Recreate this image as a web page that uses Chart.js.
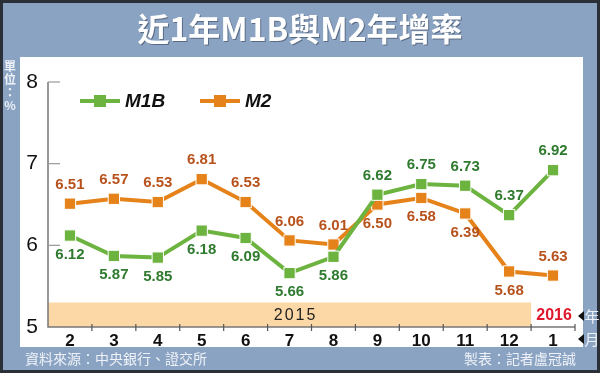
<!DOCTYPE html>
<html>
<head>
<meta charset="utf-8">
<script src="https://cdn.jsdelivr.net/npm/chart.js@4/dist/chart.umd.min.js"></script>
<style>
  html, body { margin: 0; padding: 0; background: #8ba3c2; }
  #wrap { width: 600px; height: 373px; position: relative; }
</style>
</head>
<body>
<div id="wrap"><canvas id="chart" width="600" height="373"></canvas></div>
<script>
// 月份 (2015/2 ~ 2016/1)
const months = ['2', '3', '4', '5', '6', '7', '8', '9', '10', '11', '12', '1'];
const m1b = [6.12, 5.87, 5.85, 6.18, 6.09, 5.66, 5.86, 6.62, 6.75, 6.73, 6.37, 6.92];
const m2 = [6.51, 6.57, 6.53, 6.81, 6.53, 6.06, 6.01, 6.50, 6.58, 6.39, 5.68, 5.63];
// label above (true) / below (false) the point
const m1bAbove = [false, false, false, false, false, false, false, true, true, true, true, true];
const m2Above = [true, true, true, true, true, true, true, false, false, false, false, true];
const yTicks = [5, 6, 7, 8];

const GREEN = '#6cb33f';
const ORANGE = '#e5831a';
const CJK = '"Noto Sans CJK TC", "Noto Sans", sans-serif';

const framePlugin = {
    id: 'frame',
    beforeDraw(chart) {
        const c = chart.ctx;
        c.save();
        c.fillStyle = '#8ba3c2';
        c.fillRect(0, 0, 600, 373);
        c.strokeStyle = '#2b2f38';
        c.lineWidth = 3;
        c.strokeRect(1.5, 1.5, 597, 370);
        c.fillStyle = '#ffffff';
        c.fillRect(20, 57, 563, 290);

        // title
        c.font = 'bold 32px ' + CJK;
        c.textAlign = 'center';
        c.textBaseline = 'middle';
        c.fillStyle = 'rgba(40,50,70,0.5)';
        c.fillText('近1年M1B與M2年增率', 301, 30);
        c.fillStyle = '#ffffff';
        c.fillText('近1年M1B與M2年增率', 300, 29);

        // unit
        c.font = 'bold 12px ' + CJK;
        c.fillStyle = '#eef2f8';
        ['單', '位', '：', '%'].forEach((ch, i) => c.fillText(ch, 10, 66 + i * 13));

        // footer
        c.font = '14px ' + CJK;
        c.textAlign = 'left';
        c.fillText('資料來源：中央銀行、證交所', 25, 359);
        c.textAlign = 'right';
        c.fillText('製表：記者盧冠誠', 576, 359);

        // year band
        const x = chart.scales.x, y = chart.scales.y;
        const half = (x.getPixelForValue(1) - x.getPixelForValue(0)) / 2;
        const bandRight = x.getPixelForValue(10) + half;
        const top = y.getPixelForValue(5.3), bot = y.getPixelForValue(5);
        c.fillStyle = '#fbd8a6';
        c.fillRect(chart.chartArea.left, top, bandRight - chart.chartArea.left, bot - top);
        c.textAlign = 'center';
        c.fillStyle = '#222';
        c.font = '16px "Liberation Sans", Arial, sans-serif';
        c.letterSpacing = '2px';
        c.fillText('2015', (chart.chartArea.left + bandRight) / 2 + 6, (top + bot) / 2 + 1);
        c.letterSpacing = '0px';
        c.fillStyle = '#e0182d';
        c.font = 'bold 16px "Liberation Sans", Arial, sans-serif';
        c.fillText('2016', x.getPixelForValue(11) + 1, (top + bot) / 2 + 1);
        c.restore();
    },
    afterDraw(chart) {
        const c = chart.ctx;
        const x = chart.scales.x, y = chart.scales.y;
        const area = chart.chartArea;
        c.save();
        // axes
        c.strokeStyle = '#777';
        c.lineWidth = 1.5;
        c.beginPath();
        c.moveTo(area.left, y.getPixelForValue(8));
        c.lineTo(area.left, area.bottom);
        c.lineTo(area.right, area.bottom);
        c.stroke();
        c.strokeStyle = '#999';
        c.lineWidth = 1.2;
        yTicks.slice(1).forEach(v => {
            const py = y.getPixelForValue(v);
            c.beginPath();
            c.moveTo(area.left, py);
            c.lineTo(area.left + 12, py);
            c.stroke();
        });
        const half = (x.getPixelForValue(1) - x.getPixelForValue(0)) / 2;
        c.strokeStyle = '#555';
        for (let i = 0; i < months.length; i++) {
            const px = x.getPixelForValue(i) + half;
            c.beginPath();
            c.moveTo(px, area.bottom - 3);
            c.lineTo(px, area.bottom + 4);
            c.stroke();
        }

        // year / month markers
        const drawTri = (tx, ty) => {
            c.fillStyle = '#111';
            c.beginPath();
            c.moveTo(tx, ty);
            c.lineTo(tx + 6, ty - 5);
            c.lineTo(tx + 6, ty + 5);
            c.closePath();
            c.fill();
        };
        drawTri(578, 316);
        drawTri(578, 339);
        c.font = '15px ' + CJK;
        c.textAlign = 'center';
        c.textBaseline = 'middle';
        c.fillStyle = '#eef2f8';
        c.fillText('年', 592, 316);
        c.fillText('月', 592, 339);

        // legend
        const legend = [
            { label: chart.data.datasets[0].label, color: GREEN, x: 80 },
            { label: chart.data.datasets[1].label, color: ORANGE, x: 200 }
        ];
        legend.forEach(l => {
            const ly = 101;
            c.strokeStyle = l.color;
            c.lineWidth = 4;
            c.beginPath();
            c.moveTo(l.x, ly);
            c.lineTo(l.x + 40, ly);
            c.stroke();
            c.fillStyle = l.color;
            c.fillRect(l.x + 14, ly - 6, 12, 12);
            c.fillStyle = '#111';
            c.font = 'italic bold 19px "Liberation Sans", Arial, sans-serif';
            c.textAlign = 'left';
            c.fillText(l.label, l.x + 45, ly + 1);
        });

        // data labels
        const sets = [
            { idx: 0, vals: m1b, above: m1bAbove, color: '#2e7a2e' },
            { idx: 1, vals: m2, above: m2Above, color: '#b8521c' }
        ];
        c.font = 'bold 15px "Liberation Sans", Arial, sans-serif';
        c.textAlign = 'center';
        sets.forEach(s => {
            const meta = chart.getDatasetMeta(s.idx);
            meta.data.forEach((pt, i) => {
                c.fillStyle = s.color;
                const dy = s.above[i] ? -19 : 19;
                c.fillText(s.vals[i].toFixed(2), pt.x, pt.y + dy);
            });
        });
        c.restore();
    }
};

new Chart(document.getElementById('chart'), {
    type: 'line',
    data: {
        labels: months,
        datasets: [
            {
                label: 'M1B',
                data: m1b,
                borderColor: GREEN,
                backgroundColor: GREEN,
                borderWidth: 4,
                pointStyle: 'rect',
                pointRadius: 8,
                pointBorderColor: '#ffffff',
                pointBorderWidth: 1,
                tension: 0
            },
            {
                label: 'M2',
                data: m2,
                borderColor: ORANGE,
                backgroundColor: ORANGE,
                borderWidth: 4,
                pointStyle: 'rect',
                pointRadius: 8,
                pointBorderColor: '#ffffff',
                pointBorderWidth: 1,
                tension: 0
            }
        ]
    },
    options: {
        responsive: false,
        animation: false,
        devicePixelRatio: 1,
        layout: { padding: { top: 82, right: 25, bottom: 0, left: 0 } },
        plugins: {
            legend: { display: false },
            tooltip: { enabled: false },
            title: { display: false }
        },
        scales: {
            x: {
                offset: true,
                grid: { display: false, drawTicks: false },
                border: { display: false },
                ticks: {
                    padding: 4,
                    color: '#111',
                    font: { family: '"Liberation Sans", Arial, sans-serif', size: 17, weight: 'bold' }
                },
                afterFit(scale) { scale.height = 46; }
            },
            y: {
                min: 5,
                max: 8,
                grid: { display: false, drawTicks: false },
                border: { display: false },
                afterBuildTicks(scale) { scale.ticks = yTicks.map(v => ({ value: v })); },
                ticks: {
                    padding: 10,
                    color: '#111',
                    font: { family: '"Liberation Sans", Arial, sans-serif', size: 21 }
                },
                afterFit(scale) { scale.width = 48; }
            }
        }
    },
    plugins: [framePlugin]
});
</script>
</body>
</html>
